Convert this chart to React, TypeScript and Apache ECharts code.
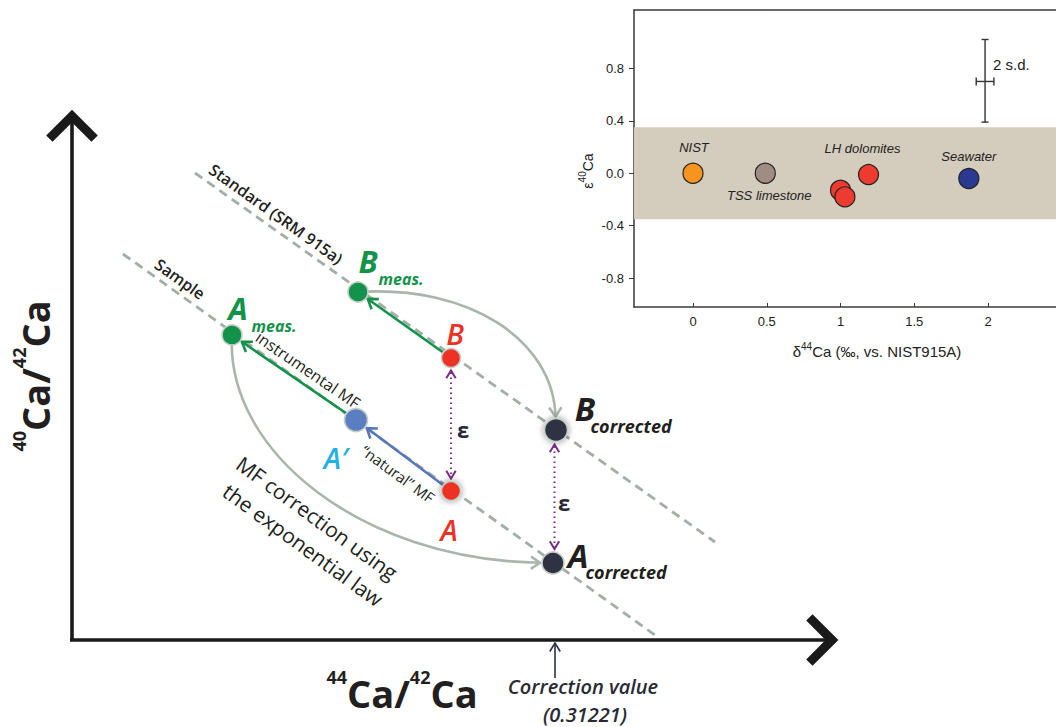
import React, { useEffect, useRef } from 'react';
import * as echarts from 'echarts';

// ---------- Inset data ----------
const sampleNames = ['NIST', 'TSS limestone', 'LH dolomites', 'LH dolomites', 'LH dolomites', 'Seawater'];
const delta44 = [0, 0.49, 1.0, 1.03, 1.19, 1.87];
const eps40 = [0.0, 0.0, -0.13, -0.18, -0.01, -0.04];
const sampleColors = ['#f7941d', '#a08c82', '#ee3b2f', '#ee3b2f', '#ee3b2f', '#2b3990'];
const bandRange = [-0.35, 0.35];
const xTicks = [0, 0.5, 1, 1.5, 2];
const yTicks = [-0.8, -0.4, 0, 0.4, 0.8];
const sdX = [1.92, 1.98, 2.04];
const sdY = [0.39, 0.7, 1.02];

// ---------- Schematic data (diagram units) ----------
const nodeNames = ['Bmeas', 'Ameas', 'B', 'A', 'A′', 'Bcorr', 'Acorr'];
const nodeX = [358, 232, 451, 451, 356, 556, 553];
const nodeY = [292, 335, 358, 491, 420, 430, 563];
const nodeColors = ['#12924a', '#12924a', '#ee3124', '#ee3124', '#5a7ec2', '#2f3242', '#2f3242'];
const nodeSizes = [20, 20, 19, 19, 23, 23, 22];

const guideX1 = [195, 123];
const guideY1 = [173, 254];
const guideX2 = [715, 655];
const guideY2 = [542, 635];

const arrowFrom = [2, 4, 3];
const arrowTo = [0, 1, 4];
const arrowColors = ['#12924a', '#12924a', '#5577bb'];

const curveFrom = [0, 1];
const curveTo = [5, 6];
const curveC1X = [470, 225];
const curveC1Y = [285, 450];
const curveC2X = [553, 360];
const curveC2Y = [340, 560];

const epsTop = [2, 5];
const epsBottom = [3, 6];

const axisX1 = [72, 70];
const axisY1 = [640, 640];
const axisX2 = [72, 832];
const axisY2 = [116, 640];

const correctionX = [555];
const correctionY1 = [678];
const correctionY2 = [643];

const X_MIN = -0.4;
const X_MAX = 2.461;

function chevron(tip: number[], ux: number, uy: number, len: number, ang: number) {
  const c = Math.cos(ang);
  const s = Math.sin(ang);
  const bx = -ux;
  const by = -uy;
  const l1 = [tip[0] + len * (bx * c - by * s), tip[1] + len * (bx * s + by * c)];
  const l2 = [tip[0] + len * (bx * c + by * s), tip[1] + len * (-bx * s + by * c)];
  return [l1, tip, l2];
}

const SANS = '"Open Sans", "Noto Sans", sans-serif';
const ARIAL = '"Liberation Sans", Arial, sans-serif';
const DARK = '#231f20';

function txt(text: string, x: number, y: number, font: string, fill: string, rotDeg = 0, align = 'center') {
  return {
    type: 'text',
    x,
    y,
    rotation: (rotDeg * Math.PI) / 180,
    silent: true,
    z: 100,
    style: {
      text,
      font,
      fill,
      align,
      textAlign: align,
      verticalAlign: 'middle',
      textVerticalAlign: 'middle',
    },
  };
}

function richLabel(text: string, x: number, y: number, rot: number, supSize: number, mainSize: number, lh: number, family: string, weight: number, fill: string) {
  return {
    type: 'text',
    x,
    y,
    rotation: rot,
    silent: true,
    z: 100,
    style: {
      text,
      align: 'center',
      textAlign: 'center',
      verticalAlign: 'middle',
      textVerticalAlign: 'middle',
      fill,
      rich: {
        s: { fontSize: supSize, fontWeight: weight, fontFamily: family, lineHeight: supSize, verticalAlign: 'top', fill },
        m: { fontSize: mainSize, fontWeight: weight, fontFamily: family, lineHeight: lh, verticalAlign: 'bottom', fill },
      },
    },
  };
}

function buildOption(): any {
  const labelOffsets: Record<number, number[]> = { 0: [1, -26], 1: [4, 22], 4: [-6, -26], 5: [0, -22] };
  const insetData = delta44.map((x, i) => ({
    value: [x, eps40[i]],
    name: sampleNames[i],
    itemStyle: { color: sampleColors[i] },
    label: labelOffsets[i]
      ? {
          show: true,
          position: 'inside',
          offset: labelOffsets[i],
          formatter: sampleNames[i],
          fontFamily: ARIAL,
          fontStyle: 'italic',
          fontSize: 13,
          color: '#222',
        }
      : { show: false },
  }));

  const schemeAxis = { show: false };

  const graphicTexts = [
    txt('Standard (SRM 915a)', 276, 214, `600 16px ${SANS}`, DARK, -35.5),
    txt('Sample', 180, 279, `600 16px ${SANS}`, DARK, -35.5),
    txt('B', 368, 261, `italic 700 31px ${SANS}`, '#12924a'),
    txt('meas.', 401, 279, `italic 700 16px ${SANS}`, '#12924a'),
    txt('A', 238, 308, `italic 700 31px ${SANS}`, '#12924a'),
    txt('meas.', 274, 326, `italic 700 16px ${SANS}`, '#12924a'),
    txt('B', 455, 333, `italic 600 29px ${SANS}`, '#ee3124'),
    txt('A', 449, 529, `italic 600 29px ${SANS}`, '#ee3124'),
    txt('A′', 336, 457, `italic 600 29px ${SANS}`, '#1fb0e6'),
    txt('instrumental MF', 308, 370, `400 16px ${SANS}`, DARK, -34.5),
    txt('“natural” MF', 398, 474, `400 15px ${SANS}`, DARK, -36),
    txt('ε', 463, 429, `700 22px ${SANS}`, '#2a2838'),
    txt('ε', 564, 502, `700 22px ${SANS}`, '#2a2838'),
    txt('B', 585, 408, `italic 700 33px ${SANS}`, DARK),
    txt('corrected', 631, 426, `italic 700 18px ${SANS}`, DARK),
    txt('A', 578, 555, `italic 700 33px ${SANS}`, DARK),
    txt('corrected', 626, 572, `italic 700 18px ${SANS}`, DARK),
    txt('MF correction using', 317, 518, `400 21px ${SANS}`, DARK, -36),
    txt('the exponential law', 303, 545, `400 21px ${SANS}`, DARK, -36),
    txt('Correction value', 583, 686, `italic 600 20px ${SANS}`, '#2a2a35'),
    txt('(0.31221)', 585, 714, `italic 600 20px ${SANS}`, '#2a2a35'),
    richLabel('{s|44}{m|Ca/}{s|42}{m|Ca}', 402, 690, 0, 18, 38, 44, SANS, 700, DARK),
    richLabel('{s|40}{m|Ca/}{s|42}{m|Ca}', 32, 376, Math.PI / 2, 18, 38, 44, SANS, 700, DARK),
    // inset texts
    txt('2 s.d.', 993, 64, `15px ${ARIAL}`, '#222', 0, 'left'),
    richLabel('{m|δ}{s|44}{m|Ca (‰, vs. NIST915A)}', 877, 350, 0, 10, 15, 18, ARIAL, 400, '#222'),
    richLabel('{m|ε}{s|40}{m|Ca}', 586, 171, Math.PI / 2, 10, 14, 17, ARIAL, 400, '#222'),
  ];

  return {
    animation: false,
    backgroundColor: '#ffffff',
    grid: [
      { left: 634, top: 10, width: 422, height: 297, show: false, containLabel: false },
      { left: 0, top: 0, width: 1056, height: 727, containLabel: false },
    ],
    xAxis: [
      {
        gridIndex: 0,
        type: 'value',
        min: X_MIN,
        max: X_MAX,
        splitLine: { show: false },
        axisLine: { show: true, onZero: false, lineStyle: { color: '#3a3a3a', width: 1.5 } },
        axisTick: { show: true, inside: true, length: 4, customValues: xTicks, lineStyle: { color: '#3a3a3a' } },
        axisLabel: {
          customValues: xTicks,
          margin: 8,
          fontFamily: ARIAL,
          fontSize: 13,
          color: '#222',
          formatter: (v: number) => String(v),
        },
      },
      { gridIndex: 1, type: 'value', min: 0, max: 1056, ...schemeAxis },
      {
        gridIndex: 0,
        type: 'value',
        position: 'top',
        min: X_MIN,
        max: X_MAX,
        splitLine: { show: false },
        axisLine: { show: true, onZero: false, lineStyle: { color: '#3a3a3a', width: 1.5 } },
        axisTick: { show: false },
        axisLabel: { show: false },
      },
    ],
    yAxis: [
      {
        gridIndex: 0,
        type: 'value',
        min: -1.02,
        max: 1.245,
        splitLine: { show: false },
        axisLine: { show: true, onZero: false, lineStyle: { color: '#3a3a3a', width: 1.5 } },
        axisTick: { show: true, inside: false, length: 5, customValues: yTicks, lineStyle: { color: '#3a3a3a' } },
        axisLabel: {
          customValues: yTicks,
          margin: 10,
          fontFamily: ARIAL,
          fontSize: 13,
          color: '#222',
          formatter: (v: number) => v.toFixed(1),
        },
      },
      { gridIndex: 1, type: 'value', min: 0, max: 727, inverse: true, ...schemeAxis },
    ],
    graphic: { elements: graphicTexts },
    series: [
      {
        type: 'scatter',
        xAxisIndex: 0,
        yAxisIndex: 0,
        symbolSize: 20,
        itemStyle: { borderColor: '#222', borderWidth: 1.2, opacity: 1 },
        data: insetData,
        z: 5,
        markArea: {
          silent: true,
          itemStyle: { color: '#d4ccbc', opacity: 1 },
          data: [[{ yAxis: bandRange[0], xAxis: X_MIN }, { yAxis: bandRange[1], xAxis: X_MAX }]],
        },
      },
      {
        type: 'custom',
        xAxisIndex: 0,
        yAxisIndex: 0,
        silent: true,
        encode: { x: [0, 1, 2], y: [3, 4, 5] },
        data: [[sdX[0], sdX[1], sdX[2], sdY[0], sdY[1], sdY[2]]],
        renderItem: (_p: any, api: any) => {
          const xc = api.value(1);
          const top = api.coord([xc, api.value(5)]);
          const bot = api.coord([xc, api.value(3)]);
          const l = api.coord([api.value(0), api.value(4)]);
          const r = api.coord([api.value(2), api.value(4)]);
          const st = { stroke: '#333', lineWidth: 1.4, fill: null };
          return {
            type: 'group',
            children: [
              { type: 'line', shape: { x1: top[0], y1: top[1], x2: bot[0], y2: bot[1] }, style: st },
              { type: 'line', shape: { x1: top[0] - 3.5, y1: top[1], x2: top[0] + 3.5, y2: top[1] }, style: st },
              { type: 'line', shape: { x1: bot[0] - 3.5, y1: bot[1], x2: bot[0] + 3.5, y2: bot[1] }, style: st },
              { type: 'line', shape: { x1: l[0], y1: l[1], x2: r[0], y2: r[1] }, style: st },
              { type: 'line', shape: { x1: l[0], y1: l[1] - 4, x2: l[0], y2: l[1] + 4 }, style: st },
              { type: 'line', shape: { x1: r[0], y1: r[1] - 4, x2: r[0], y2: r[1] + 4 }, style: st },
            ],
          };
        },
      },
      // dashed guide lines
      {
        type: 'custom',
        xAxisIndex: 1,
        yAxisIndex: 1,
        silent: true,
        z: 2,
        encode: { x: [0, 2], y: [1, 3] },
        data: guideX1.map((x, i) => [x, guideY1[i], guideX2[i], guideY2[i]]),
        renderItem: (_p: any, api: any) => {
          const a = api.coord([api.value(0), api.value(1)]);
          const b = api.coord([api.value(2), api.value(3)]);
          return {
            type: 'line',
            shape: { x1: a[0], y1: a[1], x2: b[0], y2: b[1] },
            style: { stroke: '#a3aea6', lineWidth: 2.8, lineDash: [9, 6], fill: null },
          };
        },
      },
      // curved correction arrows
      {
        type: 'custom',
        xAxisIndex: 1,
        yAxisIndex: 1,
        silent: true,
        z: 3,
        encode: { x: [0, 2, 4, 6], y: [1, 3, 5, 7] },
        data: curveFrom.map((f, i) => [
          nodeX[f], nodeY[f], curveC1X[i], curveC1Y[i], curveC2X[i], curveC2Y[i], nodeX[curveTo[i]], nodeY[curveTo[i]], nodeSizes[curveTo[i]] / 2 + 2,
        ]),
        renderItem: (_p: any, api: any) => {
          const p0 = api.coord([api.value(0), api.value(1)]);
          const c1 = api.coord([api.value(2), api.value(3)]);
          const c2 = api.coord([api.value(4), api.value(5)]);
          const p3 = api.coord([api.value(6), api.value(7)]);
          const sh = api.value(8);
          const dx = p3[0] - c2[0];
          const dy = p3[1] - c2[1];
          const L = Math.hypot(dx, dy);
          const ux = dx / L;
          const uy = dy / L;
          const tip = [p3[0] - ux * sh, p3[1] - uy * sh];
          const st = { stroke: '#a9b5ad', lineWidth: 2.6, fill: null };
          return {
            type: 'group',
            children: [
              { type: 'bezierCurve', shape: { x1: p0[0], y1: p0[1], cpx1: c1[0], cpy1: c1[1], cpx2: c2[0], cpy2: c2[1], x2: tip[0], y2: tip[1] }, style: st },
              { type: 'polyline', shape: { points: chevron(tip, ux, uy, 11, 0.6) }, style: { ...st, lineJoin: 'miter' } },
            ],
          };
        },
      },
      // straight MF arrows
      {
        type: 'custom',
        xAxisIndex: 1,
        yAxisIndex: 1,
        silent: true,
        z: 4,
        encode: { x: [0, 2], y: [1, 3] },
        data: arrowFrom.map((f, i) => [nodeX[f], nodeY[f], nodeX[arrowTo[i]], nodeY[arrowTo[i]], nodeSizes[arrowTo[i]] / 2 + 2]),
        renderItem: (p: any, api: any) => {
          const a = api.coord([api.value(0), api.value(1)]);
          const b = api.coord([api.value(2), api.value(3)]);
          const sh = api.value(4);
          const dx = b[0] - a[0];
          const dy = b[1] - a[1];
          const L = Math.hypot(dx, dy);
          const ux = dx / L;
          const uy = dy / L;
          const tip = [b[0] - ux * sh, b[1] - uy * sh];
          const st = { stroke: arrowColors[p.dataIndex], lineWidth: 2.6, fill: null };
          return {
            type: 'group',
            children: [
              { type: 'line', shape: { x1: a[0], y1: a[1], x2: tip[0], y2: tip[1] }, style: st },
              { type: 'polyline', shape: { points: chevron(tip, ux, uy, 11, 0.6) }, style: st },
            ],
          };
        },
      },
      // epsilon dotted double arrows
      {
        type: 'custom',
        xAxisIndex: 1,
        yAxisIndex: 1,
        silent: true,
        z: 4,
        encode: { x: [0, 2], y: [1, 3] },
        data: epsTop.map((t, i) => [nodeX[t], nodeY[t], nodeX[epsBottom[i]], nodeY[epsBottom[i]], nodeSizes[t] / 2 + 3, nodeSizes[epsBottom[i]] / 2 + 3]),
        renderItem: (_p: any, api: any) => {
          const a = api.coord([api.value(0), api.value(1)]);
          const b = api.coord([api.value(2), api.value(3)]);
          const x = (a[0] + b[0]) / 2;
          const t1 = [x, a[1] + api.value(4)];
          const t2 = [x, b[1] - api.value(5)];
          const col = '#7b2c83';
          return {
            type: 'group',
            children: [
              { type: 'line', shape: { x1: x, y1: t1[1] + 2, x2: x, y2: t2[1] - 2 }, style: { stroke: col, lineWidth: 2, lineDash: [1.5, 3.5], fill: null } },
              { type: 'polyline', shape: { points: chevron(t1, 0, -1, 9, 0.55) }, style: { stroke: col, lineWidth: 2, fill: null } },
              { type: 'polyline', shape: { points: chevron(t2, 0, 1, 9, 0.55) }, style: { stroke: col, lineWidth: 2, fill: null } },
            ],
          };
        },
      },
      // main axes with chevron heads
      {
        type: 'custom',
        xAxisIndex: 1,
        yAxisIndex: 1,
        silent: true,
        z: 6,
        encode: { x: [0, 2], y: [1, 3] },
        data: axisX1.map((x, i) => [x, axisY1[i], axisX2[i], axisY2[i]]),
        renderItem: (_p: any, api: any) => {
          const a = api.coord([api.value(0), api.value(1)]);
          const b = api.coord([api.value(2), api.value(3)]);
          const dx = b[0] - a[0];
          const dy = b[1] - a[1];
          const L = Math.hypot(dx, dy);
          return {
            type: 'group',
            children: [
              { type: 'line', shape: { x1: a[0], y1: a[1], x2: b[0], y2: b[1] }, style: { stroke: '#1a1a1a', lineWidth: 3.6, fill: null } },
              { type: 'polyline', shape: { points: chevron(b, dx / L, dy / L, 32, Math.PI / 4) }, style: { stroke: '#1a1a1a', lineWidth: 9, lineJoin: 'miter', fill: null } },
            ],
          };
        },
      },
      // correction value pointer
      {
        type: 'custom',
        xAxisIndex: 1,
        yAxisIndex: 1,
        silent: true,
        z: 6,
        encode: { x: [0], y: [1, 2] },
        data: correctionX.map((x, i) => [x, correctionY1[i], correctionY2[i]]),
        renderItem: (_p: any, api: any) => {
          const a = api.coord([api.value(0), api.value(1)]);
          const b = api.coord([api.value(0), api.value(2)]);
          const st = { stroke: '#2d3040', lineWidth: 1.6, fill: null };
          return {
            type: 'group',
            children: [
              { type: 'line', shape: { x1: a[0], y1: a[1], x2: b[0], y2: b[1] }, style: st },
              { type: 'polyline', shape: { points: chevron(b, 0, -1, 10, 0.55) }, style: st },
            ],
          };
        },
      },
      // schematic nodes
      {
        type: 'scatter',
        xAxisIndex: 1,
        yAxisIndex: 1,
        silent: true,
        z: 8,
        data: nodeNames.map((n, i) => ({
          name: n,
          value: [nodeX[i], nodeY[i]],
          symbolSize: nodeSizes[i],
          itemStyle: {
            color: nodeColors[i],
            opacity: 1,
            borderColor: '#c6cec8',
            borderWidth: 1.6,
            shadowBlur: i === 3 || i === 5 ? 6 : 0,
            shadowColor: 'rgba(0,0,0,0.45)',
          },
        })),
      },
    ],
  };
}

export default function App() {
  const ref = useRef<HTMLDivElement>(null);
  useEffect(() => {
    document.body.style.margin = '0';
    const chart = echarts.init(ref.current!, null, { renderer: 'svg' });
    chart.setOption(buildOption());
    return () => chart.dispose();
  }, []);
  return <div ref={ref} style={{ width: 1056, height: 727 }} />;
}
